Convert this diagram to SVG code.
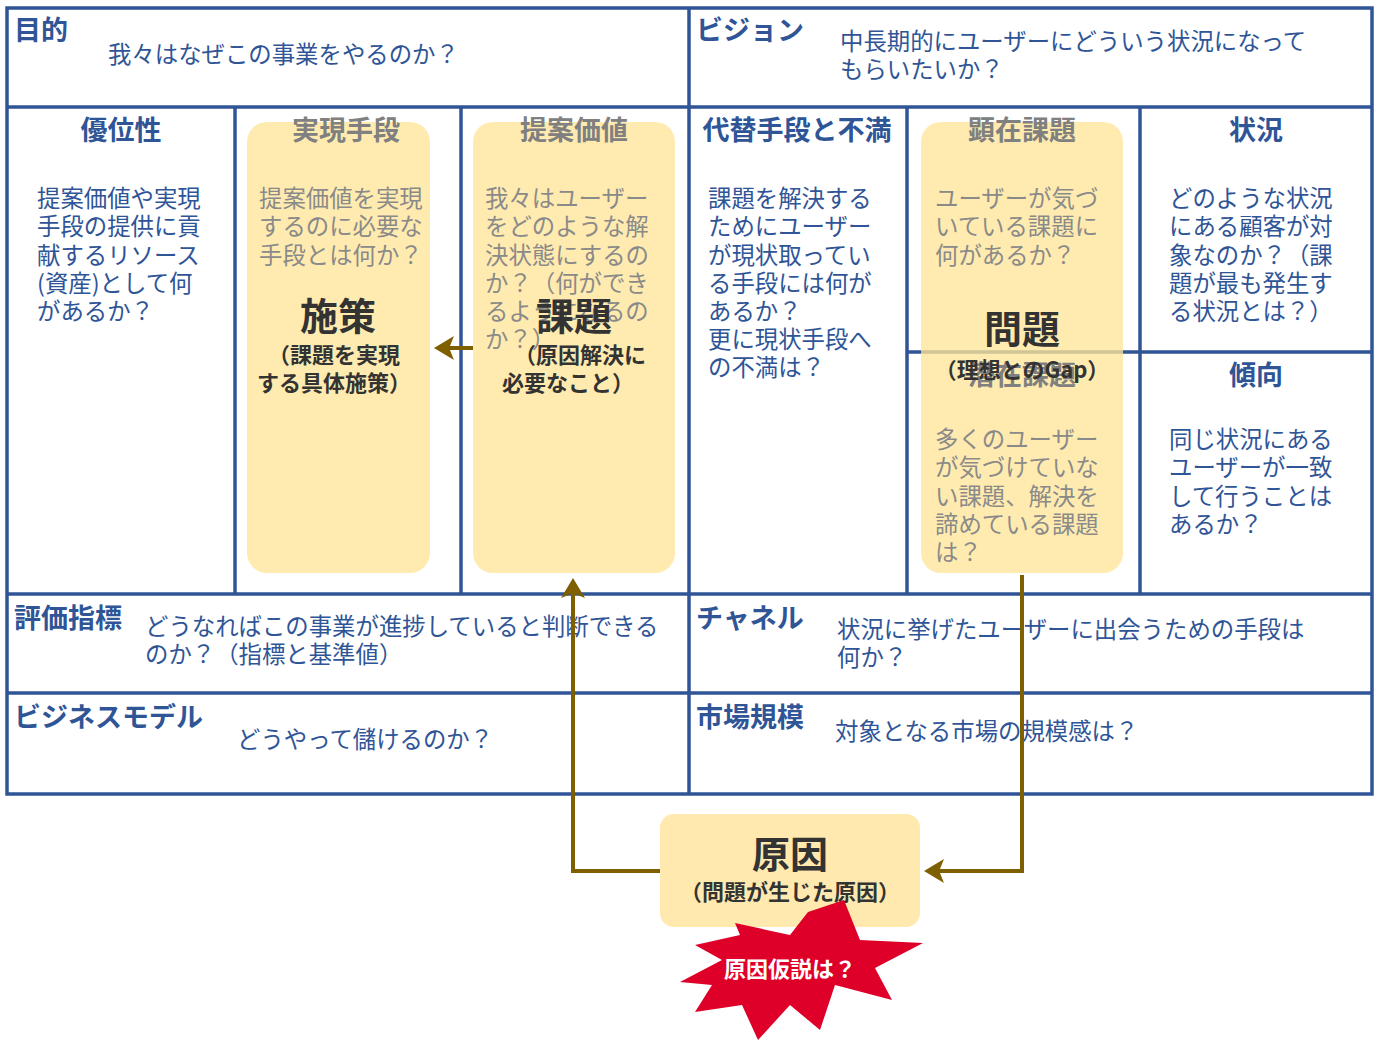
<svg xmlns="http://www.w3.org/2000/svg" width="1378" height="1043" viewBox="0 0 1378 1043">
<style>
text{font-family:"Noto Sans CJK JP","Noto Sans",sans-serif}
.h{font-size:27px;font-weight:bold;fill:#2F5597}
.hg{font-size:27px;font-weight:bold;fill:#808080}
.b{font-size:23.4px;fill:#2F5597}
.g{font-size:23.4px;fill:#8a8a8a}
.k{font-size:38px;font-weight:bold;fill:#333}
.s{font-size:22px;font-weight:bold;fill:#333}
.ln{stroke:#2F5597;stroke-width:3.5;fill:none}
.box{fill:#FFE699;opacity:0.78}
.c{stroke:#7F6000;stroke-width:4;fill:none}
</style>
<defs><marker id="a" markerWidth="6" markerHeight="6" refX="4" refY="3" orient="auto" markerUnits="strokeWidth"><path d="M0,0L5,3L0,6L1.2,3z" fill="#7F6000"/></marker></defs>
<g id="grid">
<rect class="ln" x="7" y="8" width="1365" height="786"/>
<path class="ln" d="M7 107H1372M7 594H1372M7 693H1372M689 8V794M235 107V594M461 107V594M907 107V594M1140 107V594M907 352H1372"/>
</g>
<g id="purpose"><text class="h" x="14" y="40">目的</text><text class="b" x="108" y="63">我々はなぜこの事業をやるのか？</text></g>
<g id="vision"><text class="h" x="696" y="40">ビジョン</text><text class="b" x="840" y="50">中長期的にユーザーにどういう状況になって</text><text class="b" x="840" y="78">もらいたいか？</text></g>
<g id="advantage"><text class="h" x="121" y="140" text-anchor="middle">優位性</text>
<text class="b" x="37" y="207">提案価値や実現</text><text class="b" x="37" y="235">手段の提供に貢</text><text class="b" x="37" y="264">献するリソース</text><text class="b" x="37" y="292">(資産)として何</text><text class="b" x="37" y="320">があるか？</text></g>
<g id="alt"><text class="h" x="797" y="140" text-anchor="middle">代替手段と不満</text>
<text class="b" x="708" y="207">課題を解決する</text><text class="b" x="708" y="235">ためにユーザー</text><text class="b" x="708" y="264">が現状取ってい</text><text class="b" x="708" y="292">る手段には何が</text><text class="b" x="708" y="320">あるか？</text><text class="b" x="708" y="348">更に現状手段へ</text><text class="b" x="708" y="376">の不満は？</text></g>
<g id="situation"><text class="h" x="1256" y="140" text-anchor="middle">状況</text>
<text class="b" x="1169" y="207">どのような状況</text><text class="b" x="1169" y="235">にある顧客が対</text><text class="b" x="1169" y="264">象なのか？（課</text><text class="b" x="1169" y="292">題が最も発生す</text><text class="b" x="1169" y="320">る状況とは？）</text></g>
<g id="trend"><text class="h" x="1256" y="385" text-anchor="middle">傾向</text>
<text class="b" x="1169" y="448">同じ状況にある</text><text class="b" x="1169" y="476">ユーザーが一致</text><text class="b" x="1169" y="505">して行うことは</text><text class="b" x="1169" y="533">あるか？</text></g>
<g id="kpi"><text class="h" x="14" y="628">評価指標</text><text class="b" x="145" y="635">どうなればこの事業が進捗していると判断できる</text><text class="b" x="145" y="663">のか？（指標と基準値）</text></g>
<g id="channel"><text class="h" x="696" y="628">チャネル</text><text class="b" x="837" y="638">状況に挙げたユーザーに出会うための手段は</text><text class="b" x="837" y="666">何か？</text></g>
<g id="bm"><text class="h" x="14" y="727">ビジネスモデル</text><text class="b" x="237" y="748">どうやって儲けるのか？</text></g>
<g id="market"><text class="h" x="696" y="727">市場規模</text><text class="b" x="835" y="740">対象となる市場の規模感は？</text></g>
<g id="means"><rect class="box" x="247" y="122" width="183" height="451" rx="20"/>
<text class="hg" x="346" y="140" text-anchor="middle">実現手段</text>
<text class="g" x="259" y="207">提案価値を実現</text><text class="g" x="259" y="235">するのに必要な</text><text class="g" x="259" y="264">手段とは何か？</text>
<text class="k" x="338" y="330" text-anchor="middle">施策</text><text class="s" x="334" y="363" text-anchor="middle">（課題を実現</text><text class="s" x="334" y="391" text-anchor="middle">する具体施策）</text></g>
<g id="value"><rect class="box" x="473" y="122" width="202" height="451" rx="20"/>
<text class="hg" x="574" y="140" text-anchor="middle">提案価値</text>
<text class="g" x="485" y="207">我々はユーザー</text><text class="g" x="485" y="235">をどのような解</text><text class="g" x="485" y="264">決状態にするの</text><text class="g" x="485" y="292">か？（何ができ</text><text class="g" x="485" y="320">るようになるの</text><text class="g" x="485" y="348">か？）</text>
<text class="k" x="574" y="330" text-anchor="middle">課題</text><text class="s" x="580" y="363" text-anchor="middle">（原因解決に</text><text class="s" x="568" y="391" text-anchor="middle">必要なこと）</text></g>
<g id="issue"><rect class="box" x="921" y="122" width="202" height="451" rx="20"/>
<text class="hg" x="1022" y="140" text-anchor="middle">顕在課題</text>
<text class="g" x="935" y="207">ユーザーが気づ</text><text class="g" x="935" y="235">いている課題に</text><text class="g" x="935" y="264">何があるか？</text>
<text class="hg" x="1022" y="385" text-anchor="middle">潜在課題</text>
<text class="g" x="935" y="448">多くのユーザー</text><text class="g" x="935" y="476">が気づけていな</text><text class="g" x="935" y="505">い課題、解決を</text><text class="g" x="935" y="533">諦めている課題</text><text class="g" x="935" y="561">は？</text>
<text class="k" x="1022" y="343" text-anchor="middle">問題</text><text class="s" x="1022" y="378" text-anchor="middle">（理想とのGap）</text></g>
<g id="connectors">
<path class="c" d="M473 348H438" marker-end="url(#a)"/>
<path class="c" d="M1022 575V871H928" marker-end="url(#a)"/>
<path class="c" d="M660 871H573V582" marker-end="url(#a)"/>
</g>
<g id="cause"><rect x="660" y="814" width="260" height="113" rx="14" fill="#FFE9AE"/>
<text class="k" x="790" y="868" text-anchor="middle">原因</text><text class="s" x="790" y="900" text-anchor="middle">（問題が生じた原因）</text></g>
<g id="burst"><polygon fill="#DF0029" points="844,900 860,940 923,943 875,968 892,1000 835,985 820,1030 790,1005 758,1040 742,1005 695,1012 712,985 680,982 722,960 695,945 740,935 735,923 790,935 808,912"/>
<text x="790" y="977" text-anchor="middle" font-size="22" font-weight="bold" fill="#fff">原因仮説は？</text></g>
</svg>
